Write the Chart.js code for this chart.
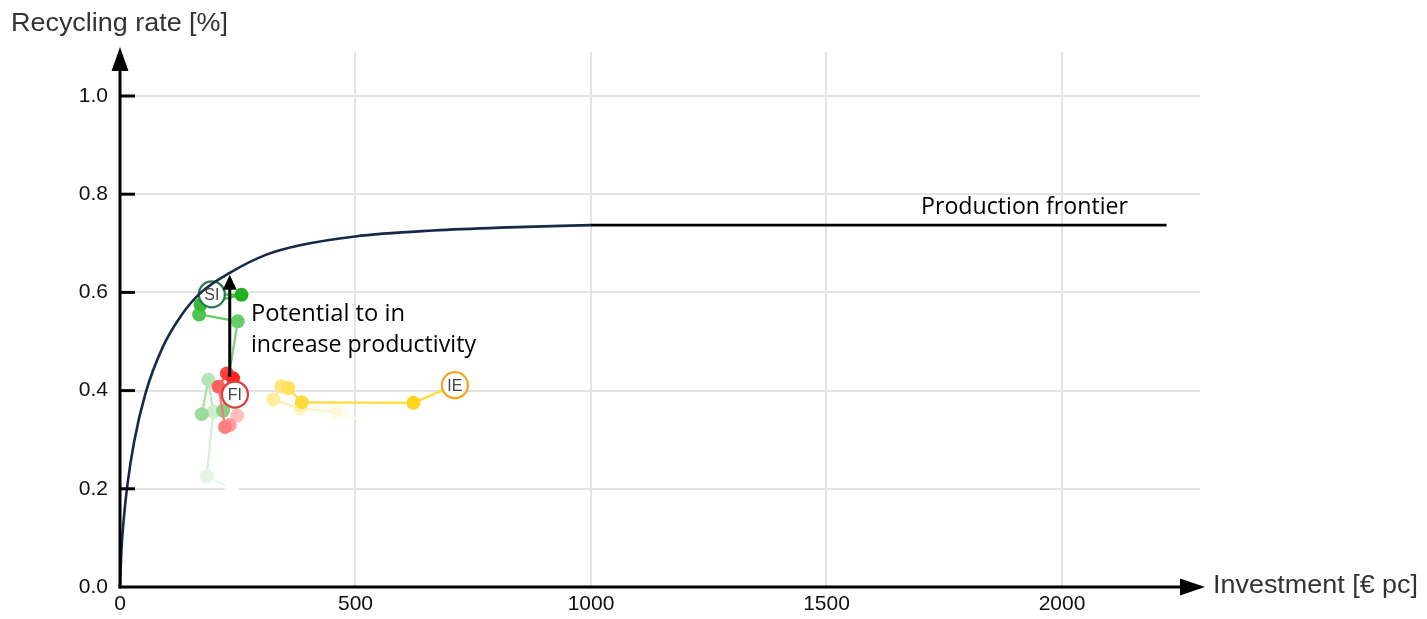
<!DOCTYPE html>
<html><head><meta charset="utf-8">
<script src="https://cdn.jsdelivr.net/npm/chart.js@4/dist/chart.umd.min.js"></script>
<style>html,body{margin:0;padding:0;background:#fff}#wrap{width:1427px;height:619px}</style>
</head><body><div id="wrap"><canvas id="c" width="1427" height="619"></canvas></div>
<script>
// ---- data ----
const xTicks = [0, 500, 1000, 1500, 2000];
const yTicks = [0, 0.2, 0.4, 0.6, 0.8, 1.0];

const frontierX = [0, 3, 8, 16, 30, 54, 90, 130, 172, 233, 311, 382, 499, 665, 807, 1000];
const frontierY = [0, 0.075, 0.139, 0.21, 0.296, 0.394, 0.487, 0.553, 0.6, 0.64, 0.677, 0.696, 0.714, 0.726, 0.732, 0.737];
const plateauX = [1000, 2222];
const plateauY = [0.737, 0.737];

const siX = [237, 184, 198, 187.5, 173.5, 219, 250, 168, 171, 258, 195];
const siY = [0.200, 0.226, 0.357, 0.422, 0.352, 0.359, 0.541, 0.555, 0.575, 0.595, 0.596];
const fiX = [249, 233, 223, 209, 227, 240, 244];
const fiY = [0.349, 0.330, 0.326, 0.408, 0.435, 0.425, 0.392];
const ieX = [516, 460, 382, 325.5, 343, 357, 386, 623, 711];
const ieY = [0.337, 0.357, 0.364, 0.382, 0.409, 0.405, 0.376, 0.375, 0.411];

const arrowX = 233;
const arrowFromY = 0.428, arrowToY = 0.636;

// ---- build ----
const pts = (xs, ys) => xs.map((v, i) => ({x: v, y: ys[i]}));

function mix(rgb, a) {
  const c = rgb.map(v => Math.round(255 - (255 - v) * a));
  return `rgb(${c[0]},${c[1]},${c[2]})`;
}

function country(label, xs, ys, rgb, border, minA, order) {
  const n = xs.length;
  const alpha = i => i >= n - 2 ? 1 : minA + (1 - minA) * i / (n - 2);
  return {
    label, order, data: pts(xs, ys), showLine: true,
    borderWidth: 2.3,
    segment: { borderColor: c => mix(rgb, alpha(c.p1DataIndex) * 0.85) },
    pointRadius: c => c.dataIndex === n - 1 ? 13 : 7,
    pointBackgroundColor: c => c.dataIndex === n - 1 ? '#fff' : mix(rgb, alpha(c.dataIndex)),
    pointBorderColor: c => c.dataIndex === n - 1 ? border : 'rgba(0,0,0,0)',
    pointBorderWidth: c => c.dataIndex === n - 1 ? 2.3 : 0,
    pointHoverRadius: 0,
    code: label
  };
}

function fitText(ctx, txt, x, yb, font, w, color) {
  ctx.save();
  ctx.font = font;
  const m = ctx.measureText(txt).width;
  ctx.translate(x, yb);
  ctx.scale(w / m, 1);
  ctx.fillStyle = color;
  ctx.textBaseline = 'alphabetic';
  ctx.textAlign = 'left';
  ctx.fillText(txt, 0, 0);
  ctx.restore();
}

const overlay = {
  id: 'overlay',
  afterDatasetsDraw(chart) {
    const {ctx, chartArea: a, scales: {x, y}} = chart;
    ctx.save();
    // country codes in circles
    chart.data.datasets.forEach((ds, di) => {
      if (!ds.code) return;
      const meta = chart.getDatasetMeta(di);
      const el = meta.data[meta.data.length - 1];
      ctx.font = '16px "Liberation Sans"';
      ctx.fillStyle = '#444';
      ctx.textAlign = 'center';
      ctx.textBaseline = 'middle';
      ctx.fillText(ds.code, el.x, el.y + 1);
    });
    // axes
    ctx.strokeStyle = '#000';
    ctx.fillStyle = '#000';
    ctx.lineWidth = 3;
    yTicks.forEach(v => {
      if (v === 0) return;
      const py = y.getPixelForValue(v);
      ctx.beginPath(); ctx.moveTo(a.left, py); ctx.lineTo(a.left + 15, py); ctx.stroke();
    });
    ctx.beginPath(); ctx.moveTo(a.left, a.bottom + 1.5); ctx.lineTo(a.left, a.top + 16); ctx.stroke();
    ctx.beginPath(); ctx.moveTo(a.left - 1.5, a.bottom); ctx.lineTo(a.right - 18, a.bottom); ctx.stroke();
    ctx.beginPath(); ctx.moveTo(a.left, a.top - 5); ctx.lineTo(a.left - 8.5, a.top + 19); ctx.lineTo(a.left + 8.5, a.top + 19); ctx.closePath(); ctx.fill();
    ctx.beginPath(); ctx.moveTo(a.right + 5, a.bottom); ctx.lineTo(a.right - 20, a.bottom - 8.5); ctx.lineTo(a.right - 20, a.bottom + 8.5); ctx.closePath(); ctx.fill();
    // potential arrow
    const ax = x.getPixelForValue(arrowX);
    const y0 = y.getPixelForValue(arrowFromY), y1 = y.getPixelForValue(arrowToY);
    ctx.lineWidth = 3;
    ctx.beginPath(); ctx.moveTo(ax, y0); ctx.lineTo(ax, y1 + 14); ctx.stroke();
    ctx.beginPath(); ctx.moveTo(ax, y1); ctx.lineTo(ax - 7, y1 + 15); ctx.lineTo(ax + 7, y1 + 15); ctx.closePath(); ctx.fill();
    ctx.restore();
    // texts
    fitText(ctx, 'Recycling rate [%]', 11, 31, '25px "Liberation Sans"', 217, '#333');
    fitText(ctx, 'Investment [€ pc]', 1213, 593, '26px "Liberation Sans"', 205, '#333');
    fitText(ctx, 'Production frontier', 921, 214, '23px "Open Sans"', 207, '#000');
    fitText(ctx, 'Potential to in', 251, 321, '24px "Open Sans"', 154, '#000');
    fitText(ctx, 'increase productivity', 251, 352, '24px "Open Sans"', 225, '#000');
  }
};

const tickFont = {family: '"Liberation Sans"', size: 21};

new Chart(document.getElementById('c'), {
  type: 'scatter',
  data: {
    datasets: [
      { label: 'frontier', order: 0, data: pts(frontierX, frontierY), showLine: true,
        borderColor: '#15294a', borderWidth: 2.6, pointRadius: 0, cubicInterpolationMode: 'monotone' },
      { label: 'plateau', order: 1, data: pts(plateauX, plateauY), showLine: true,
        borderColor: '#000', borderWidth: 2.6, pointRadius: 0 },
      country('SI', siX, siY, [30, 176, 30], '#2a7a52', 0.0, 3),
      country('FI', fiX, fiY, [255, 35, 35], '#d8403c', 0.3, 2),
      country('IE', ieX, ieY, [255, 212, 25], '#f5a623', 0.0, 4)
    ]
  },
  options: {
    responsive: false,
    animation: false,
    events: [],
    layout: { padding: { left: 0, right: 227, top: 52, bottom: 0 } },
    plugins: { legend: { display: false }, tooltip: { enabled: false } },
    scales: {
      x: {
        type: 'linear', min: 0, max: 2293,
        afterBuildTicks: s => { s.ticks = xTicks.map(v => ({value: v})); },
        afterFit: s => { s.height = 32; },
        border: { display: false },
        grid: { color: c => c.tick && c.tick.value === 0 ? 'rgba(0,0,0,0)' : '#e4e4e4', lineWidth: 2, drawTicks: false },
        ticks: { font: tickFont, color: '#111', padding: 5, maxRotation: 0, callback: v => String(v) }
      },
      y: {
        type: 'linear', min: 0, max: 1.0896,
        afterBuildTicks: s => { s.ticks = yTicks.map(v => ({value: v})); },
        afterFit: s => { s.width = 120; },
        border: { display: false },
        grid: { color: c => c.tick && c.tick.value === 0 ? 'rgba(0,0,0,0)' : '#e4e4e4', lineWidth: 2, drawTicks: false },
        ticks: { font: tickFont, color: '#111', padding: 12, callback: v => v.toFixed(1) }
      }
    }
  },
  plugins: [overlay]
});
</script>
</body></html>
